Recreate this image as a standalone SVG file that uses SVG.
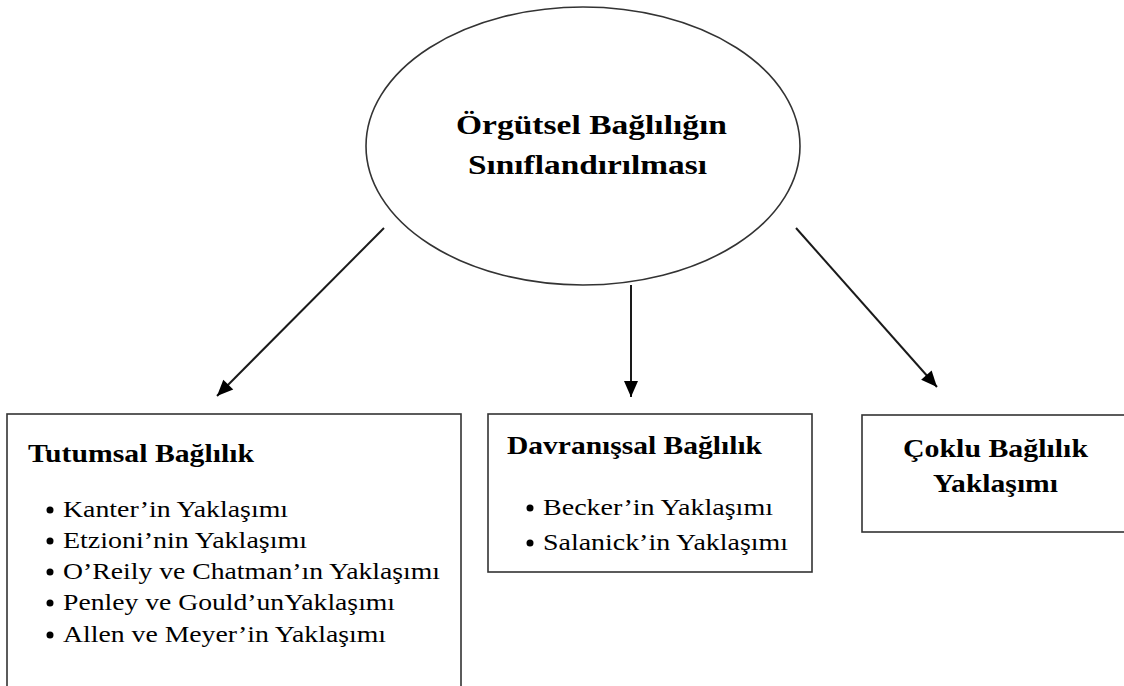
<svg xmlns="http://www.w3.org/2000/svg" width="1124" height="686" viewBox="0 0 1124 686">
  <style>
    .shape { fill: #ffffff; stroke: #333333; stroke-width: 1.6; }
    .edge { fill: none; stroke: #1a1a1a; stroke-width: 2; }
    .title { font-weight: bold; font-size: 27px; }
    .head { font-weight: bold; font-size: 25px; }
    .item { font-size: 23px; }
    .dot { fill: #000; }
  </style>
  <defs>
    <marker id="arrow" markerUnits="userSpaceOnUse" markerWidth="20" markerHeight="20" viewBox="0 0 20 20" refX="18" refY="10" orient="auto">
      <path d="M2,3 L18,10 L2,17 Z" fill="#000"/>
    </marker>
  </defs>

  <rect width="1124" height="686" fill="#ffffff"/>

  <!-- connectors -->
  <g id="connectors">
    <line class="edge" x1="384" y1="228" x2="217" y2="396" marker-end="url(#arrow)"/>
    <line class="edge" x1="631" y1="285" x2="631" y2="397" marker-end="url(#arrow)"/>
    <line class="edge" x1="796" y1="228" x2="937" y2="387" marker-end="url(#arrow)"/>
  </g>

  <g font-family="Times New Roman, Liberation Serif, DejaVu Serif, serif" fill="#000">
    <!-- root ellipse -->
    <g id="root">
      <ellipse class="shape" cx="583" cy="146" rx="217" ry="139"/>
      <text class="title" x="456" y="134" textLength="271" lengthAdjust="spacingAndGlyphs">Örgütsel  Bağlılığın</text>
      <text class="title" x="468" y="174" textLength="239" lengthAdjust="spacingAndGlyphs">Sınıflandırılması</text>
    </g>

    <!-- attitudinal commitment -->
    <g id="tutumsal">
      <rect class="shape" x="7" y="414" width="454" height="290"/>
      <text class="head" x="28" y="462" textLength="226" lengthAdjust="spacingAndGlyphs">Tutumsal Bağlılık</text>
      <circle class="dot" cx="50" cy="510" r="3.5"/>
      <text class="item" x="63" y="517" textLength="225" lengthAdjust="spacingAndGlyphs">Kanter’in Yaklaşımı</text>
      <circle class="dot" cx="50" cy="541" r="3.5"/>
      <text class="item" x="63" y="548" textLength="244" lengthAdjust="spacingAndGlyphs">Etzioni’nin Yaklaşımı</text>
      <circle class="dot" cx="50" cy="572" r="3.5"/>
      <text class="item" x="63" y="579" textLength="377" lengthAdjust="spacingAndGlyphs">O’Reily ve Chatman’ın Yaklaşımı</text>
      <circle class="dot" cx="50" cy="603" r="3.5"/>
      <text class="item" x="63" y="610" textLength="332" lengthAdjust="spacingAndGlyphs">Penley ve Gould’unYaklaşımı</text>
      <circle class="dot" cx="50" cy="635" r="3.5"/>
      <text class="item" x="63" y="642" textLength="323" lengthAdjust="spacingAndGlyphs">Allen ve Meyer’in Yaklaşımı</text>
    </g>

    <!-- behavioural commitment -->
    <g id="davranissal">
      <rect class="shape" x="488" y="414" width="324" height="158"/>
      <text class="head" x="507" y="454" textLength="255" lengthAdjust="spacingAndGlyphs">Davranışsal Bağlılık</text>
      <circle class="dot" cx="530" cy="508" r="3.5"/>
      <text class="item" x="543" y="515" textLength="230" lengthAdjust="spacingAndGlyphs">Becker’in Yaklaşımı</text>
      <circle class="dot" cx="530" cy="543" r="3.5"/>
      <text class="item" x="543" y="550" textLength="245" lengthAdjust="spacingAndGlyphs">Salanick’in Yaklaşımı</text>
    </g>

    <!-- multiple commitment approach -->
    <g id="coklu">
      <rect class="shape" x="862" y="415" width="280" height="117"/>
      <text class="head" x="903" y="457" textLength="185" lengthAdjust="spacingAndGlyphs">Çoklu Bağlılık</text>
      <text class="head" x="933" y="492" textLength="125" lengthAdjust="spacingAndGlyphs">Yaklaşımı</text>
    </g>
  </g>
</svg>
